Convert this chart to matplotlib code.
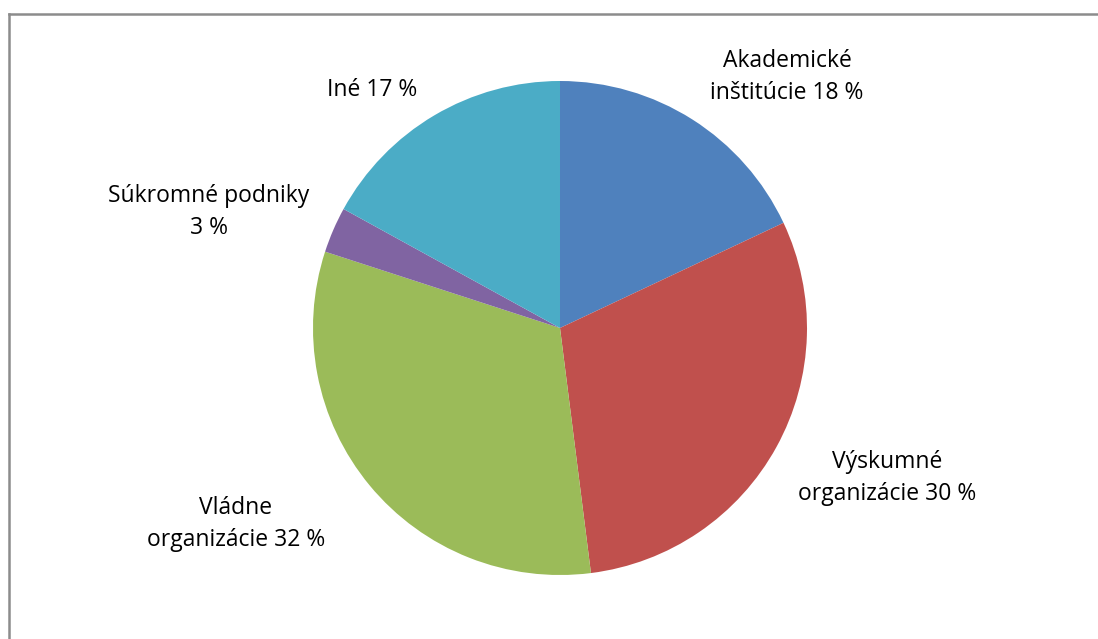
import matplotlib
matplotlib.use('Agg')
from matplotlib import pyplot as plt
from matplotlib.lines import Line2D

# data
labels = ['Akademické\ninštitúcie 18 %', 'Výskumné\norganizácie 30 %',
          'Vládne\norganizácie 32 %', 'Súkromné podniky\n3 %', 'Iné 17 %']
values = [18, 30, 32, 3, 17]
colors = ['#4F81BD', '#C0504D', '#9BBB59', '#8064A2', '#4BACC6']

# label centres in pixels (x from left, y from top)
label_px = [(787, 77), (887, 478), (236, 524), (209, 212), (372, 90)]

W, H = 1098, 639
fig = plt.figure(figsize=(W / 100, H / 100), dpi=100)

# chart frame (only top and left visible)
fig.add_artist(Line2D([9 / W, 1097 / W], [1 - 13.5 / H, 1 - 13.5 / H],
                      color='#8c8c8c', lw=1.8, transform=fig.transFigure))
fig.add_artist(Line2D([9 / W, 9 / W], [1 - 13.5 / H, 0],
                      color='#8c8c8c', lw=1.8, transform=fig.transFigure))

r = 247
cx, cy = 560, 328
ax = fig.add_axes([(cx - r) / W, (H - cy - r) / H, 2 * r / W, 2 * r / H])
ax.pie(values, colors=colors, startangle=90, counterclock=False, radius=1,
       wedgeprops=dict(linewidth=0))
ax.set_xlim(-1, 1)
ax.set_ylim(-1, 1)
ax.set_aspect('equal')
ax.axis('off')

for lab, (px, py) in zip(labels, label_px):
    fig.text(px / W, 1 - py / H, lab, ha='center', va='center', fontsize=16.5,
             family='Open Sans', color='#000000', linespacing=1.4)

fig.savefig('out.png', dpi=100)
